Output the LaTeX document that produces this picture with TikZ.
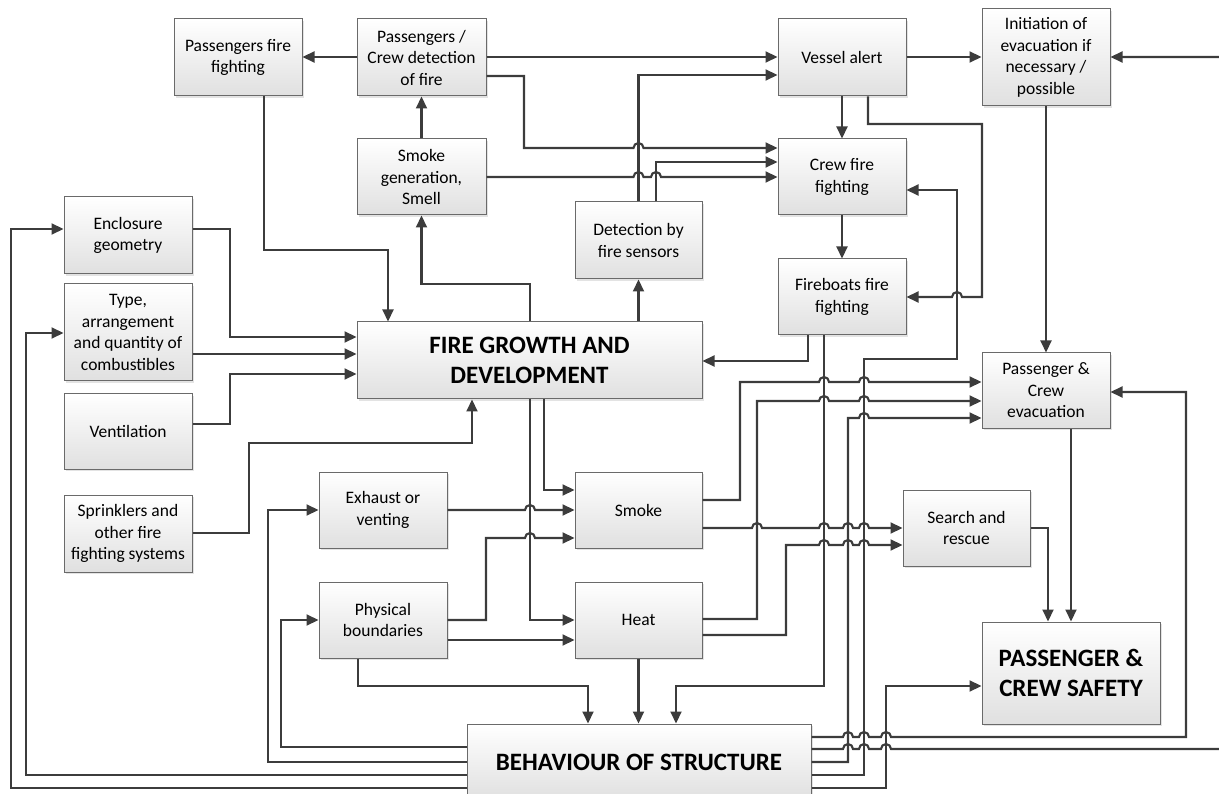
\documentclass[tikz,border=0pt]{standalone}
\usepackage{fontspec}
\setmainfont{Carlito}
\usetikzlibrary{arrows.meta,shadows}
\definecolor{linec}{HTML}{3C3C3C}
\definecolor{boxline}{HTML}{6A6A6A}
\definecolor{boxbot}{HTML}{E0E0E0}
% line jumps: over a vertical line at x=#1 on height y=#2, going right / left
\newcommand\jmpR[2]{-- ({#1-5},{-#2}) arc[start angle=180,end angle=0,radius=5]}
\newcommand\jmpL[2]{-- ({#1+5},{-#2}) arc[start angle=0,end angle=180,radius=5]}
\tikzset{
  box/.style={draw=boxline, line width=1pt, top color=white, bottom color=boxbot,
    align=center, inner sep=0pt, font=\fontsize{17.5}{21.5}\selectfont,
    drop shadow={opacity=0.22, shadow xshift=2pt, shadow yshift=-2pt}},
  bigbox/.style={box, font=\fontsize{25}{30}\selectfont\bfseries},
  conn/.style={draw=linec, line width=2.1pt, line join=miter,
    -{Triangle[length=12pt,width=11pt]}},
  wire/.style={draw=linec, line width=2.1pt},
}
\begin{document}
\begin{tikzpicture}[x=1pt,y=1pt]
\useasboundingbox (0,0) rectangle (1219,-794);
\clip (0,0) rectangle (1219,-794);

% ---- boxes ----
\node[box, minimum width=128pt, minimum height=77pt] (pff) at (238,-57.5) {Passengers fire\\fighting};
\node[box, minimum width=129pt, minimum height=77pt] (pcd) at (421.5,-57.5) {Passengers /\\Crew detection\\of fire};
\node[box, minimum width=129pt, minimum height=76pt] (sg) at (421.5,-177) {Smoke\\generation,\\Smell};
\node[box, minimum width=128pt, minimum height=77pt] (va) at (842,-57.5) {Vessel alert};
\node[box, minimum width=128pt, minimum height=97pt] (init) at (1046,-57.5) {Initiation of\\evacuation if\\necessary /\\possible};
\node[box, minimum width=128pt, minimum height=76pt] (cff) at (842,-177) {Crew fire\\fighting};
\node[box, minimum width=127pt, minimum height=77pt] (det) at (638.5,-240.5) {Detection by\\fire sensors};
\node[box, minimum width=128pt, minimum height=77pt] (encl) at (128,-235.5) {Enclosure\\geometry};
\node[box, minimum width=128pt, minimum height=76pt] (fb) at (842,-297) {Fireboats fire\\fighting};
\node[box, minimum width=128pt, minimum height=97pt] (type) at (128,-332.5) {Type,\\arrangement\\and quantity of\\combustibles};
\node[box, minimum width=128pt, minimum height=75pt] (vent) at (128,-431.5) {Ventilation};
\node[box, minimum width=128pt, minimum height=77pt] (sprk) at (128,-533.5) {Sprinklers and\\other fire\\fighting systems};
\node[bigbox, minimum width=345pt, minimum height=77pt] (fg) at (529.5,-360.5) {FIRE GROWTH AND\\DEVELOPMENT};
\node[box, minimum width=128pt, minimum height=75pt] (pce) at (1046,-390.5) {Passenger \&\\Crew\\evacuation};
\node[box, minimum width=128pt, minimum height=76pt] (exh) at (383,-510) {Exhaust or\\venting};
\node[box, minimum width=127pt, minimum height=76pt] (smk) at (638.5,-510) {Smoke};
\node[box, minimum width=127pt, minimum height=76pt] (sr) at (966.5,-528) {Search and\\rescue};
\node[box, minimum width=128pt, minimum height=76pt] (pb) at (383,-620) {Physical\\boundaries};
\node[box, minimum width=127pt, minimum height=76pt] (heat) at (638.5,-620) {Heat};
\node[bigbox, minimum width=178pt, minimum height=102pt] (ps) at (1071,-673) {PASSENGER \&\\CREW SAFETY};
\node[bigbox, minimum width=344pt, minimum height=76pt] (bs) at (639,-762) {BEHAVIOUR OF STRUCTURE};

% ---- detection and alert ----
\draw[conn] (pcd.west |- 0,-57) -- (pff.east |- 0,-57);
\draw[conn] (pcd.east |- 0,-57) -- (va.west |- 0,-57);
\draw[conn] (pcd.east |- 0,-76) -- (524,-76) -- (524,-148) \jmpR{638.5}{148} -- (cff.west |- 0,-148);
\draw[conn] (det.north) -- (det.north |- 0,-75) -- (va.west |- 0,-75);
\draw[conn] (det.north -| 656,0) -- (656,-162) -- (cff.west |- 0,-162);
\draw[conn] (sg.east |- 0,-177) \jmpR{638.5}{177} \jmpR{656}{177} -- (cff.west |- 0,-177);
\draw[conn] (fg.north -| 530,0) -- (530,-284) -- (421.5,-284) -- (sg.south);
\draw[conn] (sg.north) -- (pcd.south);
\draw[conn] (fg.north -| det.south) -- (det.south);
\draw[conn] (pff.south -| 264,0) -- (264,-250) -- (388,-250) -- (fg.north -| 388,0);
\draw[conn] (va.east |- 0,-57) -- (init.west |- 0,-57);
\draw[conn] (va.south) -- (cff.north);
\draw[conn] (cff.south) -- (fb.north);
\draw[conn] (init.south) -- (pce.north);
\draw[conn] (va.south -| 868,0) -- (868,-124) -- (982,-124) -- (982,-297) \jmpL{957}{297} -- (fb.east |- 0,-297);

% ---- inputs to fire growth ----
\draw[conn] (encl.east |- 0,-229) -- (230,-229) -- (230,-337) -- (fg.west |- 0,-337);
\draw[conn] (type.east |- 0,-354) -- (fg.west |- 0,-354);
\draw[conn] (vent.east |- 0,-424) -- (230,-424) -- (230,-374) -- (fg.west |- 0,-374);
\draw[conn] (sprk.east |- 0,-533) -- (249,-533) -- (249,-443) -- (472,-443) -- (fg.south -| 472,0);
\draw[conn] (fb.south -| 808,0) -- (808,-361) -- (fg.east |- 0,-361);

% ---- smoke and heat ----
\draw[conn] (fg.south -| 530,0) -- (530,-620) -- (heat.west |- 0,-620);
\draw[conn] (fg.south -| 544,0) -- (544,-490) -- (smk.west |- 0,-490);
\draw[conn] (exh.east |- 0,-510) \jmpR{530}{510} -- (smk.west |- 0,-510);
\draw[conn] (pb.east |- 0,-620) -- (486,-620) -- (486,-538) \jmpR{530}{538} -- (smk.west |- 0,-538);
\draw[conn] (pb.east |- 0,-640) -- (heat.west |- 0,-640);
\draw[conn] (smk.east |- 0,-500) -- (740,-500) -- (740,-382) \jmpR{824}{382} \jmpR{864}{382} -- (pce.west |- 0,-382);
\draw[conn] (smk.east |- 0,-528) \jmpR{757}{528} \jmpR{824}{528} \jmpR{848}{528} \jmpR{864}{528} -- (sr.west |- 0,-528);
\draw[conn] (heat.east |- 0,-619) -- (757,-619) -- (757,-401) \jmpR{824}{401} \jmpR{864}{401} -- (pce.west |- 0,-401);
\draw[conn] (heat.east |- 0,-635) -- (786,-635) -- (786,-545) \jmpR{824}{545} \jmpR{848}{545} \jmpR{864}{545} -- (sr.west |- 0,-545);

% ---- into behaviour of structure ----
\draw[conn] (pb.south -| 358,0) -- (358,-686) -- (588,-686) -- (bs.north -| 588,0);
\draw[conn] (heat.south) -- (bs.north -| heat.south);
\draw[conn] (fb.south -| 824,0) -- (824,-686) -- (676,-686) -- (bs.north -| 676,0);

% ---- feedback from behaviour of structure, left ----
\draw[conn] (bs.west |- 0,-747) -- (281,-747) -- (281,-620) -- (pb.west |- 0,-620);
\draw[conn] (bs.west |- 0,-762) -- (268,-762) -- (268,-510) -- (exh.west |- 0,-510);
\draw[conn] (bs.west |- 0,-775) -- (26,-775) -- (26,-333) -- (type.west |- 0,-333);
\draw[conn] (bs.west |- 0,-788) -- (11,-788) -- (11,-229) -- (encl.west |- 0,-229);

% ---- feedback from behaviour of structure, right ----
\draw[conn] (bs.east |- 0,-737) \jmpR{848}{737} \jmpR{864}{737} \jmpR{886}{737} -- (1186,-737) -- (1186,-392) -- (pce.east |- 0,-392);
\draw[conn] (bs.east |- 0,-749) \jmpR{848}{749} \jmpR{864}{749} \jmpR{886}{749} -- (1240,-749) -- (1240,-57) -- (init.east |- 0,-57);
\draw[conn] (bs.east |- 0,-762) -- (848,-762) -- (848,-418) \jmpR{864}{418} -- (pce.west |- 0,-418);
\draw[conn] (bs.east |- 0,-775) -- (864,-775) -- (864,-359) -- (957,-359) -- (957,-190) -- (cff.east |- 0,-190);
\draw[conn] (bs.east |- 0,-788) -- (886,-788) -- (886,-686) -- (ps.west |- 0,-686);

% ---- to passenger and crew safety ----
\draw[conn] (sr.east |- 0,-528) -- (1048,-528) -- (ps.north -| 1048,0);
\draw[conn] (pce.south -| 1071,0) -- (ps.north -| 1071,0);
\end{tikzpicture}
\end{document}
